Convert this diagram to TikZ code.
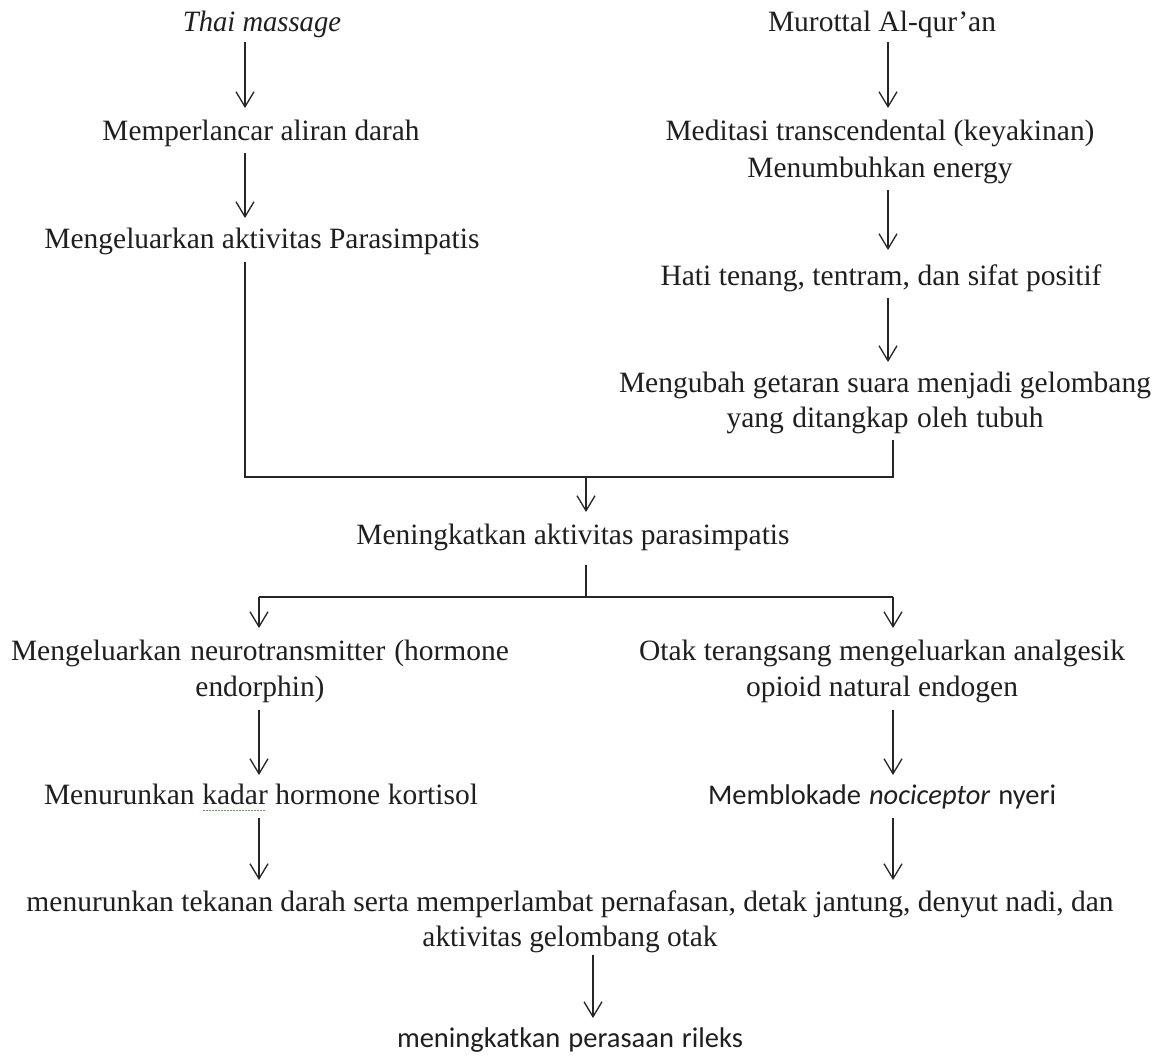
\documentclass[tikz,border=0pt]{standalone}
\usepackage{fontspec}
\usepackage{graphicx}
\setmainfont{Liberation Serif}
\newfontfamily\calib{Carlito}
\usetikzlibrary{arrows.meta}
\definecolor{spell}{RGB}{90,170,70}
\newlength\fitlen
\newcommand\fitw[2]{\settowidth\fitlen{#2}\ifdim\fitlen<#1\relax\makebox[#1][s]{#2}\else\resizebox{#1}{\height}{#2}\fi}
\newcommand\spellerr[1]{\setbox0\hbox{#1}\rlap{\textcolor{spell}{\raisebox{-7pt}{\leaders\hbox to 3pt{\hss\rule{1.4pt}{1.4pt}\hss}\hskip\wd0\relax}}}\box0\relax}
\newcommand\twol[5][0pt]{\begin{tabular}[t]{@{}c@{}}\fitw{#2}{#3}\\[#1]\fitw{#4}{#5}\end{tabular}}
\begin{document}
\begin{tikzpicture}[x=1pt,y=-1pt,
  txt/.style={inner sep=0pt, outer sep=0pt, anchor=base, text height=21pt, text depth=7pt,
    font=\fontsize{29.5}{36}\selectfont, text=black!88},
  two/.style={txt, text depth=43pt},
  sans/.style={txt, font=\calib\fontsize{28.5}{34}\selectfont},
  ln/.style={line width=1.3pt, draw=black!85},
  arr/.style={ln, -{Straight Barb[length=15pt,width=18pt,line width=1.3pt]}}]
\useasboundingbox[fill=white] (0,0) rectangle (1160,1061);
% columns and junctions
\coordinate (cLt) at (245,0);
\coordinate (cLb) at (259,0);
\coordinate (cRt) at (888,0);
\coordinate (cRb) at (893,0);
\coordinate (cM) at (586,0);
\coordinate (cMb) at (593,0);
\coordinate (j1L) at (245,477);
\coordinate (j1R) at (893,477);
\coordinate (j1M) at (586,477);
\coordinate (j2L) at (259,597);
\coordinate (j2R) at (893,597);
\coordinate (j2M) at (586,597);
% nodes
\node[txt] (thai) at (262,31) {\fitw{158pt}{\itshape Thai massage}};
\node[txt] (mp) at (261,140) {\fitw{317pt}{Memperlancar aliran darah}};
\node[txt] (mpa) at (262,248) {\fitw{435pt}{Mengeluarkan aktivitas Parasimpatis}};
\node[txt] (mur) at (882,31) {\fitw{228pt}{Murottal Al-qur’an}};
\node[two] (med) at (880,140) {\twol[1pt]{429pt}{Meditasi transcendental (keyakinan)}{265pt}{Menumbuhkan energy}};
\node[txt] (hati) at (881,285) {\fitw{441pt}{Hati tenang, tentram, dan sifat positif}};
\node[two] (meng) at (885,392) {\twol[-1pt]{532pt}{Mengubah getaran suara menjadi gelombang}{317pt}{yang ditangkap oleh tubuh}};
\node[txt] (mening) at (573,544) {\fitw{433pt}{Meningkatkan aktivitas parasimpatis}};
\node[two] (neuro) at (260,660) {\twol{498pt}{Mengeluarkan neurotransmitter (hormone}{129pt}{endorphin)}};
\node[txt] (kort) at (261,804) {\fitw{434pt}{Menurunkan \spellerr{kadar} hormone kortisol}};
\node[two] (otak) at (882,660) {\twol{486pt}{Otak terangsang mengeluarkan analgesik}{272pt}{opioid natural endogen}};
\node[sans] (blok) at (882,804) {\fitw{348pt}{Memblokade \textit{nociceptor} nyeri}};
\node[two] (low) at (570,911) {\twol[-1pt]{1087pt}{menurunkan tekanan darah serta memperlambat pernafasan, detak jantung, denyut nadi, dan}{295pt}{aktivitas gelombang otak}};
\node[sans] (rileks) at (570,1047) {\fitw{346pt}{meningkatkan perasaan rileks}};
% connectors
\draw[arr, shorten <=4pt, shorten >=11pt] (thai.south -| cLt) -- (mp.north -| cLt);
\draw[arr, shorten <=6pt, shorten >=9pt] (mp.south -| cLt) -- (mpa.north -| cLt);
\draw[arr, shorten <=4pt, shorten >=11pt] (mur.south -| cRt) -- (med.north -| cRt);
\draw[arr, shorten <=7pt, shorten >=14pt] (med.south -| cRt) -- (hati.north -| cRt);
\draw[arr, shorten <=6pt, shorten >=9pt] (hati.south -| cRt) -- (meng.north -| cRt);
\draw[ln, shorten <=7pt, shorten >=5pt] (mpa.south -| cLt) -- (j1L) -- (j1R) -- (meng.south -| cRb);
\draw[arr, shorten >=11pt] (j1M) -- (mening.north -| cM);
\draw[ln, shorten <=14pt] (mening.south -| cM) -- (j2M);
\draw[ln] (j2L) -- (j2R);
\draw[arr, shorten >=11pt] (j2L) -- (neuro.north -| cLb);
\draw[arr, shorten >=11pt] (j2R) -- (otak.north -| cRb);
\draw[arr, shorten <=7pt, shorten >=8pt] (neuro.south -| cLb) -- (kort.north -| cLb);
\draw[arr, shorten <=7pt, shorten >=10pt] (kort.south -| cLb) -- (low.north -| cLb);
\draw[arr, shorten <=7pt, shorten >=8pt] (otak.south -| cRb) -- (blok.north -| cRb);
\draw[arr, shorten <=7pt, shorten >=10pt] (blok.south -| cRb) -- (low.north -| cRb);
\draw[arr, shorten <=1pt, shorten >=8pt] (low.south -| cMb) -- (rileks.north -| cMb);
\end{tikzpicture}
\end{document}
